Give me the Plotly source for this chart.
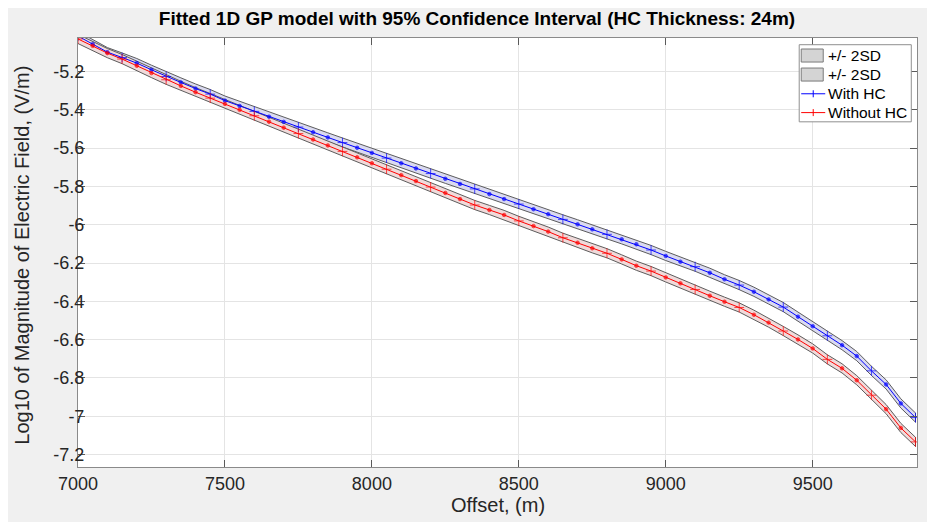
import plotly.graph_objects as go

# ---------------- data ----------------
offset = list(range(7000, 9851, 50))  # m, 58 points

with_hc = [
    -5.015, -5.057, -5.099, -5.127, -5.156, -5.191, -5.226, -5.257, -5.289, -5.318,
    -5.352, -5.380, -5.408, -5.436, -5.463, -5.490, -5.517, -5.544, -5.571, -5.598,
    -5.625, -5.652, -5.679, -5.706, -5.733, -5.760, -5.787, -5.813, -5.840, -5.866,
    -5.892, -5.919, -5.945, -5.972, -5.998, -6.024, -6.050, -6.076, -6.102, -6.132,
    -6.163, -6.193, -6.219, -6.251, -6.285, -6.315, -6.350, -6.390, -6.430, -6.480,
    -6.530, -6.580, -6.629, -6.686, -6.763, -6.834, -6.933, -7.007,
]

without_hc = [
    -5.030, -5.066, -5.104, -5.135, -5.170, -5.208, -5.243, -5.275, -5.308, -5.339,
    -5.369, -5.400, -5.431, -5.462, -5.493, -5.524, -5.555, -5.586, -5.617, -5.648,
    -5.679, -5.710, -5.741, -5.772, -5.803, -5.834, -5.866, -5.897, -5.923, -5.949,
    -5.980, -6.007, -6.036, -6.068, -6.094, -6.123, -6.149, -6.181, -6.214, -6.242,
    -6.275, -6.306, -6.338, -6.371, -6.402, -6.432, -6.470, -6.511, -6.555, -6.599,
    -6.646, -6.703, -6.750, -6.812, -6.890, -6.963, -7.061, -7.134,
]

two_sd_with = [0.024] * len(offset)
two_sd_without = [0.024] * len(offset)

x_tick_vals = [7000, 7500, 8000, 8500, 9000, 9500]
x_tick_text = ["7000", "7500", "8000", "8500", "9000", "9500"]
y_tick_vals = [-7.2, -7.0, -6.8, -6.6, -6.4, -6.2, -6.0, -5.8, -5.6, -5.4, -5.2]
y_tick_text = ["-7.2", "-7", "-6.8", "-6.6", "-6.4", "-6.2", "-6", "-5.8", "-5.6", "-5.4", "-5.2"]

legend_labels = ["+/- 2SD", "+/- 2SD", "With HC", "Without HC"]

# ---------------- figure ----------------
FONT = "Liberation Sans, Arial, Helvetica, sans-serif"
BLUE = "#0000ff"
RED = "#ff0000"
EDGE = "#5c5c5c"
TXT = "#262626"

# page pixel geometry of the plot area (the page adds an 8px body margin)
PL, PR, PT, PB = 78.3, 916.7, 38.3, 466.7
OFF = 8


def px(X):
    return (X - PL) / (PR - PL)


def py(Y):
    return (PB - Y) / (PB - PT)


fig = go.Figure()


def band(y, sd, fillcolor):
    upper = [v + s for v, s in zip(y, sd)]
    lower = [v - s for v, s in zip(y, sd)]
    return go.Scatter(
        x=offset + offset[::-1],
        y=upper + lower[::-1],
        fill="toself",
        fillcolor=fillcolor,
        line=dict(color=EDGE, width=1),
        mode="lines",
        name="+/- 2SD",
        hoverinfo="skip",
    )


fig.add_trace(band(with_hc, two_sd_with, "#dadaf0"))
fig.add_trace(band(without_hc, two_sd_without, "#f0dada"))

symbols = ["cross-thin" if i % 3 == 0 else "circle" for i in range(len(offset))]
sizes = [7 if i % 3 == 0 else 3.5 for i in range(len(offset))]


def series(y, color, name):
    return go.Scatter(
        x=offset,
        y=y,
        mode="lines+markers",
        name=name,
        line=dict(color=color, width=1),
        marker=dict(symbol=symbols, size=sizes, color=color,
                    line=dict(color=color, width=1)),
    )


fig.add_trace(series(with_hc, BLUE, "With HC"))
fig.add_trace(series(without_hc, RED, "Without HC"))

axis_common = dict(
    showline=True, linecolor="#8a8a8a", linewidth=1, mirror="ticks",
    ticks="inside", ticklen=7, tickcolor="#5a5a5a", tickwidth=1,
    showgrid=True, gridcolor="#e4e4e4", gridwidth=1,
    zeroline=False,
    tickfont=dict(family=FONT, size=18, color=TXT),
)

fig.update_xaxes(range=[7000, 9855], tickvals=x_tick_vals, ticktext=x_tick_text,
                 **axis_common)
fig.update_yaxes(range=[-7.265, -5.025], tickvals=y_tick_vals, ticktext=y_tick_text,
                 ticklabelstandoff=-11, **axis_common)

# axis titles
annotations = [
    dict(text="Offset, (m)", x=0.5, y=py(505), xref="paper", yref="paper",
         xanchor="center", yanchor="middle", showarrow=False,
         font=dict(family=FONT, size=20, color=TXT)),
    dict(text="Log10 of Magnitude of Electric Field, (V/m)", x=px(22), y=py(255),
         xref="paper", yref="paper", xanchor="center", yanchor="middle",
         textangle=-90, showarrow=False, font=dict(family=FONT, size=20, color=TXT)),
]

# hand-drawn legend box (top right, inside the axes)
LX0, LX1, LY0, LY1 = 799, 911, 45, 122
rows = [55.8, 74.8, 94.0, 112.8]
shapes = [
    dict(type="rect", xref="paper", yref="paper", x0=px(LX0), x1=px(LX1),
         y0=py(LY1), y1=py(LY0), fillcolor="#ffffff", line=dict(color="#8f8f8f", width=1),
         layer="above"),
]
for k, (label, ry) in enumerate(zip(legend_labels, rows)):
    if k < 2:
        shapes.append(dict(type="rect", xref="paper", yref="paper",
                           x0=px(801), x1=px(823), y0=py(ry + 6.5), y1=py(ry - 6.5),
                           fillcolor="#d4d4d4", line=dict(color="#7a7a7a", width=1),
                           layer="above"))
    else:
        c = BLUE if k == 2 else RED
        shapes.append(dict(type="line", xref="paper", yref="paper",
                           x0=px(801), x1=px(825), y0=py(ry), y1=py(ry),
                           line=dict(color=c, width=1), layer="above"))
        shapes.append(dict(type="line", xref="paper", yref="paper",
                           x0=px(813), x1=px(813), y0=py(ry - 3.5), y1=py(ry + 3.5),
                           line=dict(color=c, width=1), layer="above"))
    annotations.append(dict(text=label, x=px(826), y=py(ry), xref="paper", yref="paper",
                            xanchor="left", yanchor="middle", showarrow=False,
                            font=dict(family=FONT, size=15.5, color="#000000")))

fig.update_layout(
    width=935, height=522,
    margin=dict(l=PL - OFF, r=935 - (PR - OFF), t=PT - OFF, b=522 - (PB - OFF),
                autoexpand=False),
    paper_bgcolor="#f0f0f0",
    plot_bgcolor="#ffffff",
    title=dict(
        text="Fitted 1D GP model with 95% Confidence Interval (HC Thickness: 24m)",
        font=dict(family=FONT, size=19, color="#000000", weight="bold"),
        x=px(477), xref="paper", xanchor="center",
        y=1 - (18 - OFF) / 522, yref="container", yanchor="middle",
    ),
    showlegend=False,
    annotations=annotations,
    shapes=shapes,
)

fig.write_html("out.html")
